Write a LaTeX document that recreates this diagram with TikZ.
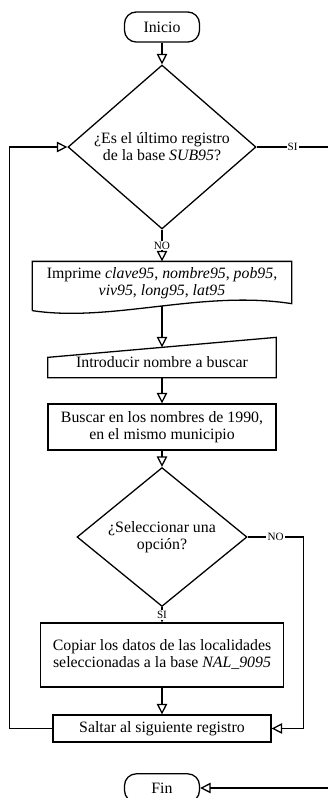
\documentclass[tikz,border=0pt]{standalone}
\usepackage{fontspec}
\setmainfont{Liberation Serif}
\usetikzlibrary{shapes,arrows.meta,calc}
\tikzset{%
pics/.cd,
termi/.style args={#1#2#3#4}{
  code={\node[draw,rounded corners=10pt,minimum width=#3,minimum height=#4] (#2) {#1};
  }
},
%pics/.cd,
decis/.style args={#1#2#3#4}{
  code={\node[draw,shape=diamond,inner sep=0pt,align=center,minimum width=#3,minimum height=#4] (#2) {#1};
  }
},
%pics/.cd,
proce/.style args={#1#2#3#4}{
  code={\node[draw,align=center,minimum width=#3,minimum height=#4] (#2) {#1};
  }
},
%pics/.cd,
docu/.style args={#1#2}{
  code={\node[align=center,minimum width=7.74cm,minimum height=1.29cm] (#2) {#1};
       \draw ($(#2.south west)+(0,5)$) -- (#2.north west) -- (#2.north east) -- ($(#2.south east)+(0,-2)$)
          .. controls +(-90,-14) and +(80,12) .. ($(#2.south west)+(0,5)$);
  }
},
%pics/.cd,
manin/.style args={#1#2}{
  code={\node[minimum width=6.81cm,minimum height=0.87cm] (#2) {#1};
       \draw ($(#2.north west)+(0,10)$) -- (#2.south west) -- (#2.south east) -- ($(#2.north east)+(0,-10)$) -- cycle;
  }
},
}

\begin{document}
\begin{tikzpicture}[x=0.03cm,y=-0.03cm,line width=1.1pt,font=\fontsize{13.5}{14.5}\selectfont,
  >={Triangle[open,length=9pt,width=9pt]},
  lbl/.style={fill=white,inner sep=1pt,font=\fontsize{9.5}{10}\selectfont}]
  \useasboundingbox (0,0) rectangle (327,798);
    \pic at (162,27) {termi={Inicio}{ini}{2.25cm}{0.9cm}};
    \pic at (162,147) {decis={¿Es el último registro\\de la base \textit{SUB95}?}{d1}{5.64cm}{4.5cm}};
    \pic at (162,283.5) {docu={Imprime \textit{clave95}, \textit{nombre95}, \textit{pob95},\\\textit{viv95}, \textit{long95}, \textit{lat95}}{impr}};
    \pic at (162,362.5) {manin={Introducir nombre a buscar}{intro}};
    \pic at (162,427) {proce={Buscar en los nombres de 1990,\\en el mismo municipio}{busca}{6.84cm}{1.38cm}};
    \pic at (162,537) {decis={¿Seleccionar una\\opción?}{d2}{5.1cm}{3.84cm}};
    \pic at (162,655) {proce={Copiar los datos de las localidades\\seleccionadas a la base \textit{NAL\_9095}}{copia}{7.29cm}{1.92cm}};
    \pic at (162,728.5) {proce={Saltar al siguiente registro}{salto}{6.54cm}{0.81cm}};
    \pic at (162,788) {termi={Fin}{fin}{2.25cm}{0.85cm}};
 \draw[->](ini)--(d1);
 \draw[->](d1)--node[lbl]{NO}(impr);
 \draw[->](impr)--(intro);
 \draw[->](intro)--(busca);
 \draw[->](busca)--(d2);
 \draw[->](d2)--node[lbl]{SI}(copia);
 \draw[->](copia)--(salto);
 \draw[->](d2.east)--node[lbl]{NO} ++(56,0) |- (salto.east);
 \draw[->](salto.west)-- ++(-43,0) |- (d1.west);
 \draw[->](d1.east)--node[lbl,pos=0.4]{SI} ++(90,0) |- (fin.east);
  \end{tikzpicture}
\end{document}
